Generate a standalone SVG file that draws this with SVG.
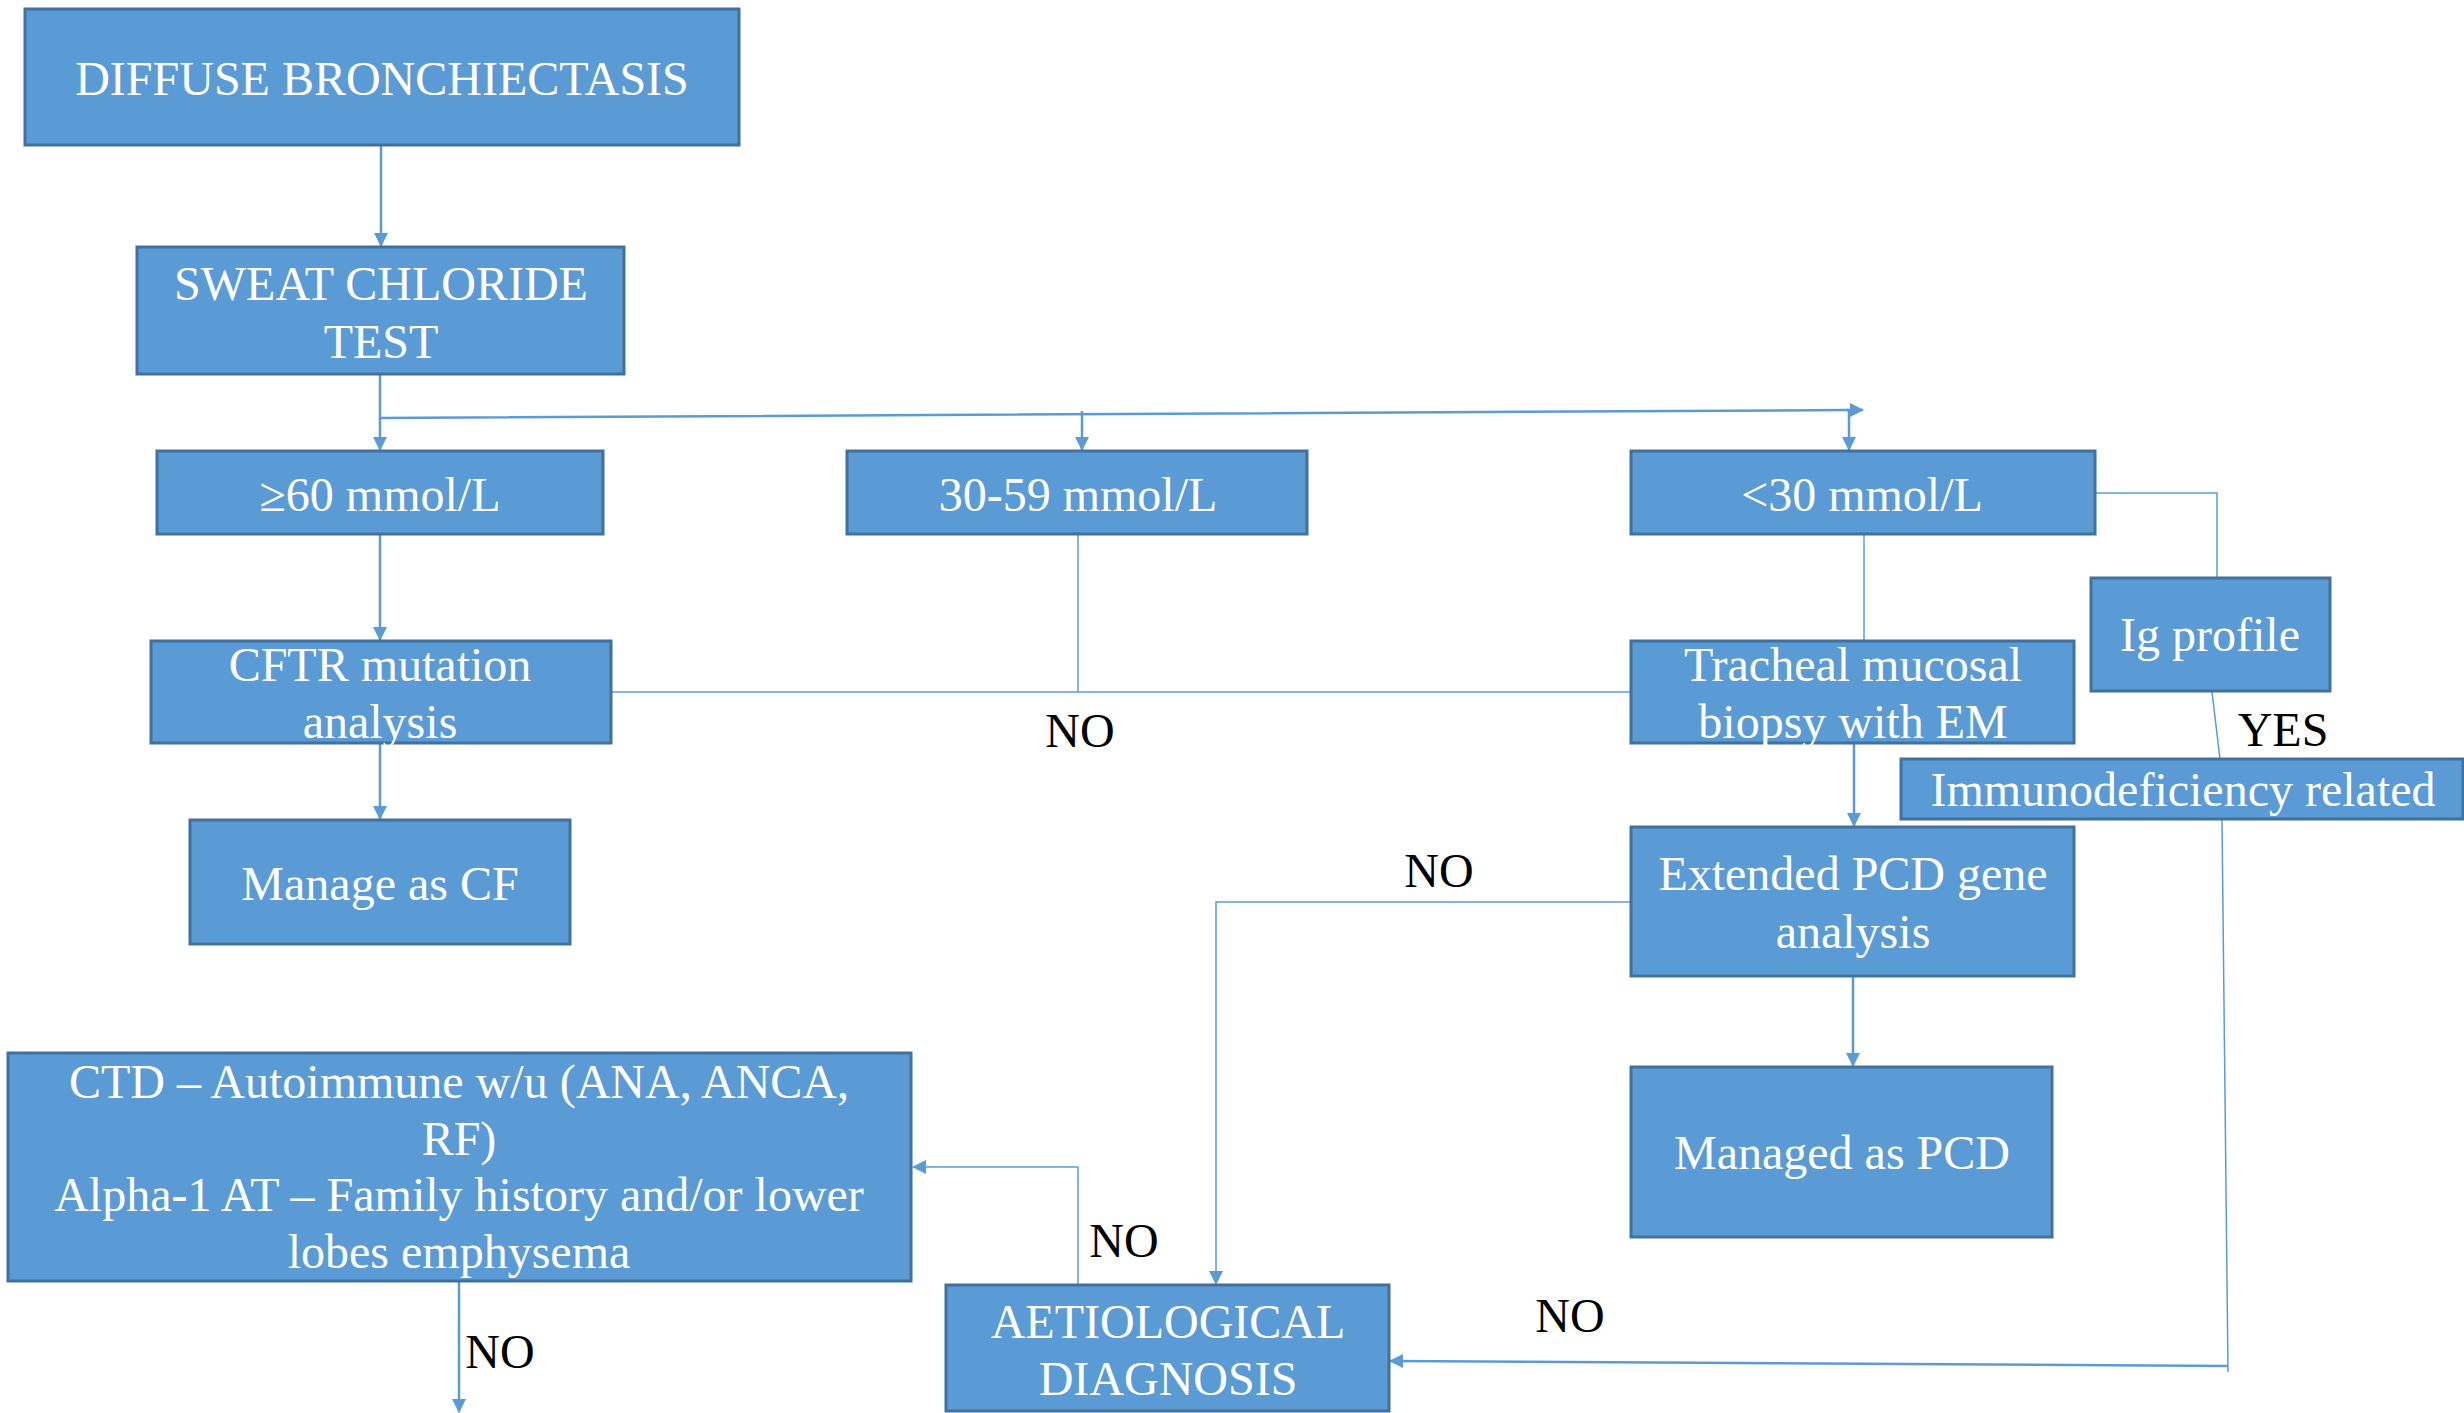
<svg xmlns="http://www.w3.org/2000/svg" width="2464" height="1413" viewBox="0 0 2464 1413">
<style>
.box{fill:#5B9BD5;stroke:#41719C;stroke-width:3}
.t{font-family:"Liberation Serif","Times New Roman",serif;font-size:48px;fill:#FFFFFF;text-anchor:middle}
.lbl{font-family:"Liberation Serif","Times New Roman",serif;font-size:48px;fill:#000000;text-anchor:middle}
.c{fill:none;stroke:#5B9BD5;stroke-width:2.5}
.thin{fill:none;stroke:#5B9BD5;stroke-width:1.5}
</style>
<defs>
<marker id="ah" viewBox="0 0 14 14" refX="13" refY="7" markerWidth="14" markerHeight="14" markerUnits="userSpaceOnUse" orient="auto">
<path d="M0,0 L14,7 L0,14 Z" fill="#5B9BD5"/>
</marker>
</defs>
<rect width="2464" height="1413" fill="#FFFFFF"/>
<g id="connectors">
<path class="c" d="M381,145 V246" marker-end="url(#ah)"/>
<path class="c" d="M380,375 V418 L1849,410"/>
<path class="c" d="M1846,410 H1863" marker-end="url(#ah)"/>
<path class="c" d="M380,418 V450" marker-end="url(#ah)"/>
<path class="c" d="M1082,411 V450" marker-end="url(#ah)"/>
<path class="c" d="M1849,410 V450" marker-end="url(#ah)"/>
<path class="c" d="M380,535 V640" marker-end="url(#ah)"/>
<path class="c" d="M380,744 V819" marker-end="url(#ah)"/>
<path class="thin" d="M1078,535 V692"/>
<path class="thin" d="M611,692 H1631"/>
<path class="thin" d="M1864,535 V641"/>
<path class="thin" d="M2095,493 H2217 V578"/>
<path class="thin" d="M2212,692 L2220,759"/>
<path class="c" d="M1854,744 V826" marker-end="url(#ah)"/>
<path class="c" d="M1853,977 V1066" marker-end="url(#ah)"/>
<path class="thin" d="M1631,902 H1216 V1284" marker-end="url(#ah)"/>
<path class="thin" d="M2222,820 L2228,1372"/>
<path class="c" d="M2228,1366 L1390,1361" marker-end="url(#ah)"/>
<path class="thin" d="M1078,1285 V1167 H913" marker-end="url(#ah)"/>
<path class="c" d="M459,1282 V1412" marker-end="url(#ah)"/>
</g>
<g id="node-diffuse"><rect class="box" x="25" y="9" width="714" height="136"/><text class="t" x="382" y="95">DIFFUSE BRONCHIECTASIS</text></g>
<g id="node-sweat"><rect class="box" x="137" y="247" width="487" height="127"/><text class="t" x="381" y="300">SWEAT CHLORIDE</text><text class="t" x="381" y="358">TEST</text></g>
<g id="node-ge60"><rect class="box" x="157" y="451" width="446" height="83"/><text class="t" x="380" y="511">≥60 mmol/L</text></g>
<g id="node-30-59"><rect class="box" x="847" y="451" width="460" height="83"/><text class="t" x="1078" y="511">30-59 mmol/L</text></g>
<g id="node-lt30"><rect class="box" x="1631" y="451" width="464" height="83"/><text class="t" x="1862" y="511">&lt;30 mmol/L</text></g>
<g id="node-cftr"><rect class="box" x="151" y="641" width="460" height="102"/><text class="t" x="380" y="681">CFTR mutation</text><text class="t" x="380" y="738">analysis</text></g>
<g id="node-tracheal"><rect class="box" x="1631" y="641" width="443" height="102"/><text class="t" x="1853" y="681">Tracheal mucosal</text><text class="t" x="1853" y="738">biopsy with EM</text></g>
<g id="node-ig"><rect class="box" x="2091" y="578" width="239" height="113"/><text class="t" x="2210" y="651">Ig profile</text></g>
<g id="node-immuno"><rect class="box" x="1901" y="759" width="562" height="60"/><text class="t" x="2183" y="806">Immunodeficiency related</text></g>
<g id="node-manage-cf"><rect class="box" x="190" y="820" width="380" height="124"/><text class="t" x="380" y="900">Manage as CF</text></g>
<g id="node-extended"><rect class="box" x="1631" y="827" width="443" height="149"/><text class="t" x="1853" y="890">Extended PCD gene</text><text class="t" x="1853" y="948">analysis</text></g>
<g id="node-managed-pcd"><rect class="box" x="1631" y="1067" width="421" height="170"/><text class="t" x="1842" y="1169">Managed as PCD</text></g>
<g id="node-ctd"><rect class="box" x="8" y="1053" width="903" height="228"/><text class="t" x="459" y="1098">CTD – Autoimmune w/u (ANA, ANCA,</text><text class="t" x="459" y="1155">RF)</text><text class="t" x="459" y="1211">Alpha-1 AT – Family history and/or lower</text><text class="t" x="459" y="1268">lobes emphysema</text></g>
<g id="node-aetio"><rect class="box" x="946" y="1285" width="443" height="126"/><text class="t" x="1168" y="1338">AETIOLOGICAL</text><text class="t" x="1168" y="1395">DIAGNOSIS</text></g>
<g id="labels">
<text class="lbl" x="1080" y="747">NO</text>
<text class="lbl" x="2283" y="746">YES</text>
<text class="lbl" x="1439" y="887">NO</text>
<text class="lbl" x="1124" y="1257">NO</text>
<text class="lbl" x="1570" y="1332">NO</text>
<text class="lbl" x="500" y="1368">NO</text>
</g>
</svg>
